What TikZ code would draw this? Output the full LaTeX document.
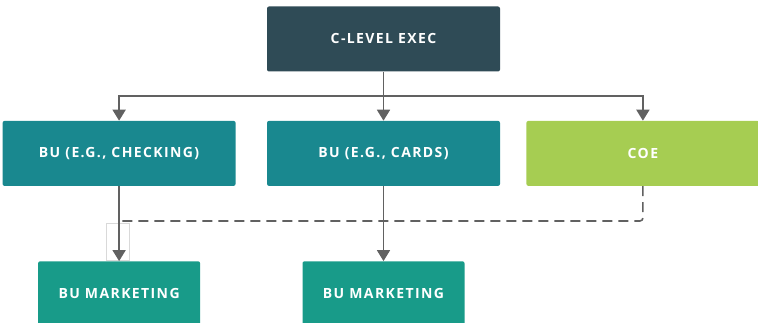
\documentclass[tikz,border=0pt]{standalone}
\usepackage{fontspec}
\usepackage{xcolor}
\usetikzlibrary{positioning, arrows.meta, calc}

\newfontfamily\boxfont[LetterSpace=10]{Open Sans}

\definecolor{execcol}{HTML}{2F4B56}
\definecolor{bucol}{HTML}{19888F}
\definecolor{mktcol}{HTML}{189B89}
\definecolor{coecol}{HTML}{A6CD52}
\definecolor{linecol}{HTML}{616161}

\begin{document}
\begin{tikzpicture}[
        x=1pt, y=-1pt,
        unit/.style={rectangle, rounded corners=2pt, draw=none, text=white, font=\boxfont\bfseries\fontsize{14}{16}\selectfont, minimum width=233pt, minimum height=65pt, inner sep=0pt},
        mkt/.style={unit, fill=mktcol, minimum width=162pt, minimum height=64pt},
        conn/.style={draw=linecol, line width=1.8pt, -{Triangle[length=11pt, width=13pt]}},
        link/.style={draw=linecol, line width=1.6pt, dash pattern=on 10pt off 6pt, rounded corners=3pt}
    ]
        \useasboundingbox (0,0) rectangle (758,323);
        \clip (0,0) rectangle (758,323);

        \node[unit, fill=execcol] (exec) at (383.5,39) {C-LEVEL EXEC};
        \node[unit, fill=bucol, below=49pt of exec] (cards) {BU (E.G., CARDS)};
        \node[unit, fill=bucol, left=31pt of cards] (checking) {BU (E.G., CHECKING)};
        \node[unit, fill=coecol, right=26pt of cards] (coe) {COE};

        \node[mkt, below=75pt of checking] (mktleft) {BU MARKETING};
        \node[mkt, below=75pt of cards] (mktmid) {BU MARKETING};

        % reporting lines
        \coordinate (split) at ($(exec.south)+(0,24)$);
        \draw[conn] (exec) -- (cards);
        \draw[conn] (split) -| (checking);
        \draw[conn] (split) -| (coe);

        % dotted-line link from the COE
        \coordinate (dashend) at ($(checking.south |- 0,221)$);
        \draw[link] (coe.south) |- (dashend);

        % faint box round the arrow
        \draw[gray!30, line width=0.6pt] (106,223) rectangle (129,260);

        \draw[conn] (checking) -- (mktleft);
        \draw[conn] (cards) -- (mktmid);

    \end{tikzpicture}
\end{document}
